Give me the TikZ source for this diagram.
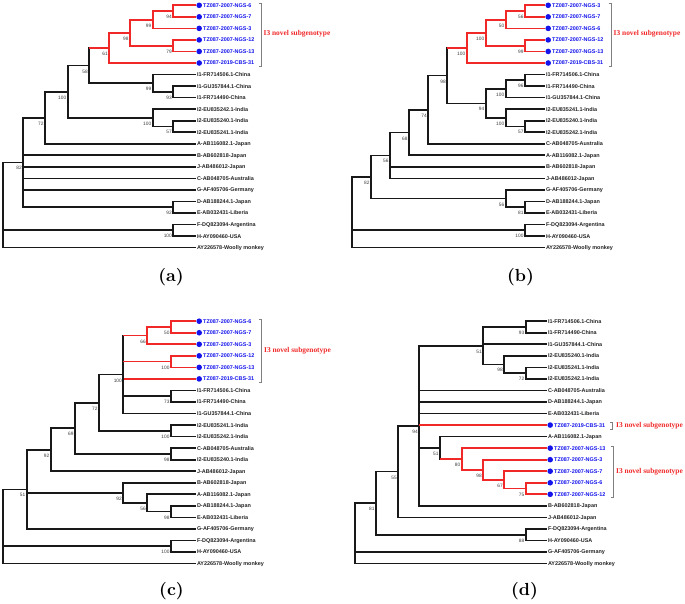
\documentclass[tikz,border=0pt]{standalone}
\usepackage{fontspec}
\newfontfamily\leaffont{Liberation Sans}
\newfontfamily\subfont{Liberation Serif}
\newfontfamily\capfont{lmroman10-bold}[Extension=.otf]
\usetikzlibrary{calc}
\definecolor{trred}{RGB}{240,40,40}
\definecolor{nvblue}{RGB}{20,20,235}
\definecolor{refgray}{RGB}{35,35,35}
\definecolor{bsgray}{RGB}{60,60,60}

% leaves of one tree: prefix, x of branch ends, y of first row, list
\newcommand\leafset[4]{%
  \foreach \lbl/\sty [count=\i from 0] in {#4} {
    \coordinate (#1\i) at (#2, {#3+11.54*\i});
    \node[\sty=#1d\i] (#1t\i) at (#1\i) {\lbl};
  }}
% inner node: name, x, first child, last child, support
\newcommand\clade[5]{%
  \coordinate (#1m) at ($(#3)!.5!(#4)$);
  \coordinate (#1) at (#2,0 |- #1m);
  \if\relax\detokenize{#5}\relax\else\node[bs] (#1s) at (#1) {#5};\fi}
\newcommand\kids[3][tr]{\foreach \ch in {#3} {\draw[#1] (#2) |- (\ch);}}
\newcommand\redstem[2]{\draw[tr] (#1) |- (#2); \draw[rl] (#1 |- #2) -- (#2);}

\begin{document}
\begin{tikzpicture}[x=1pt, y=-1pt,
    tr/.style={line width=1.7pt, draw=black!90},
    rl/.style={line width=1.7pt, draw=trred},
    lab/.style={anchor=west, inner sep=0.8pt, text height=3.9pt, text depth=0pt, font=\leaffont\fontsize{5.45}{6}\selectfont\bfseries},
    rf/.style={lab, text=refgray},
    nv/.style={lab, text=nvblue, xshift=6.2pt, label={[blob, name=#1]left:{}}},
    blob/.style={circle, fill=nvblue, inner sep=0pt, minimum size=5.6pt},
    bs/.style={anchor=north east, inner sep=0pt, xshift=-1.3pt, yshift=-3.9pt, text height=3.4pt, text depth=0pt, text=bsgray, font=\leaffont\fontsize{4.8}{5}\selectfont},
    brk/.style={draw=gray, line width=0.6pt},
    sub/.style={anchor=west, inner sep=0pt, text=trred, font=\subfont\fontsize{7.4}{8}\selectfont\bfseries},
    panel/.style={font=\capfont\fontsize{17.5}{20}\selectfont}]
\useasboundingbox (0,0) rectangle (685,603);

% (a)
\leafset{a}{196}{5.3}{TZ087-2007-NGS-6/nv, TZ087-2007-NGS-7/nv, TZ087-2007-NGS-3/nv, TZ087-2007-NGS-12/nv, TZ087-2007-NGS-13/nv, TZ087-2019-CBS-31/nv, I1-FR714506.1-China/rf, I1-GU357844.1-China/rf, I1-FR714490-China/rf, I2-EU835242.1-India/rf, I2-EU835240.1-India/rf, I2-EU835241.1-India/rf, A-AB116082.1-Japan/rf, B-AB602818-Japan/rf, J-AB486012-Japan/rf, C-AB048705-Australia/rf, G-AF405706-Germany/rf, D-AB188244.1-Japan/rf, E-AB032431-Liberia/rf, F-DQ823094-Argentina/rf, H-AY090460-USA/rf, AY226578-Woolly monkey/rf}
\clade{ai1}{173.3}{a0}{a1}{94}
\clade{ai2}{152.7}{ai1}{a2}{99}
\clade{ai3}{173.3}{a3}{a4}{79}
\clade{ai4}{130}{ai2}{ai3}{98}
\clade{ai5}{109.3}{ai4}{a5}{61}
\clade{ai6}{173.3}{a7}{a8}{93}
\clade{ai7}{152.7}{a6}{ai6}{99}
\clade{ai8}{89.3}{ai5}{ai7}{58}
\clade{ai9}{173.3}{a10}{a11}{57}
\clade{ai10}{152.7}{a9}{ai9}{100}
\clade{ai11}{67.7}{ai8}{ai10}{100}
\clade{ai12}{45}{ai11}{a12}{72}
\clade{ai13}{173.3}{a17}{a18}{92}
\clade{ai14}{23.3}{ai12}{ai13}{82}
\clade{ai15}{173.3}{a19}{a20}{100}
\clade{ai16}{3.2}{ai14}{a21}{}
\kids[rl]{ai1}{a0,a1} \kids[rl]{ai2}{ai1,a2} \kids[rl]{ai3}{a3,a4}
\kids[rl]{ai4}{ai2,ai3} \kids[rl]{ai5}{ai4,a5}
\redstem{ai8}{ai5} \kids{ai8}{ai7}
\kids{ai6}{a7,a8} \kids{ai7}{a6,ai6} \kids{ai9}{a10,a11} \kids{ai10}{a9,ai9}
\kids{ai11}{ai8,ai10} \kids{ai12}{ai11,a12} \kids{ai13}{a17,a18}
\kids{ai14}{ai12,a13,a14,a15,a16,ai13} \kids{ai15}{a19,a20} \kids{ai16}{ai14,ai15,a21}
\draw[brk] (258.5,3.3) -- (261,3.3) -- (261,66.3) -- (258.5,66.3);
\node[sub] (asub) at (263.5,34.2) {I3 novel subgenotype};
\node[panel] (acap) at (171,277.5) {(a)};

% (b)
\leafset{b}{545}{5.3}{TZ087-2007-NGS-3/nv, TZ087-2007-NGS-7/nv, TZ087-2007-NGS-6/nv, TZ087-2007-NGS-12/nv, TZ087-2007-NGS-13/nv, TZ087-2019-CBS-31/nv, I1-FR714506.1-China/rf, I1-FR714490-China/rf, I1-GU357844.1-China/rf, I2-EU835241.1-India/rf, I2-EU835240.1-India/rf, I2-EU835242.1-India/rf, C-AB048705-Australia/rf, A-AB116082.1-Japan/rf, B-AB602818-Japan/rf, J-AB486012-Japan/rf, G-AF405706-Germany/rf, D-AB188244.1-Japan/rf, E-AB032431-Liberia/rf, F-DQ823094-Argentina/rf, H-AY090460-USA/rf, AY226578-Woolly monkey/rf}
\clade{bi1}{525}{b0}{b1}{56}
\clade{bi2}{505.7}{bi1}{b2}{50}
\clade{bi3}{525}{b3}{b4}{99}
\clade{bi4}{485.7}{bi2}{bi3}{100}
\clade{bi5}{466.7}{bi4}{b5}{100}
\clade{bi6}{525}{b6}{b7}{96}
\clade{bi7}{505.7}{bi6}{b8}{100}
\clade{bi8}{525}{b10}{b11}{57}
\clade{bi9}{505.7}{b9}{bi8}{100}
\clade{bi10}{485.7}{bi7}{bi9}{94}
\clade{bi11}{447.3}{bi5}{bi10}{98}
\clade{bi12}{428.3}{bi11}{b12}{74}
\clade{bi13}{409}{bi12}{b13}{68}
\clade{bi14}{390}{bi13}{b15}{56}
\clade{bi15}{525}{b17}{b18}{81}
\clade{bi16}{505.7}{b16}{bi15}{56}
\clade{bi17}{371}{bi14}{bi16}{82}
\clade{bi18}{525}{b19}{b20}{100}
\clade{bi19}{351.7}{bi17}{b21}{}
\kids[rl]{bi1}{b0,b1} \kids[rl]{bi2}{bi1,b2} \kids[rl]{bi3}{b3,b4}
\kids[rl]{bi4}{bi2,bi3} \kids[rl]{bi5}{bi4,b5}
\redstem{bi11}{bi5} \kids{bi11}{bi10}
\kids{bi6}{b6,b7} \kids{bi7}{bi6,b8} \kids{bi8}{b10,b11} \kids{bi9}{b9,bi8}
\kids{bi10}{bi7,bi9} \kids{bi12}{bi11,b12} \kids{bi13}{bi12,b13}
\kids{bi14}{bi13,b14,b15} \kids{bi15}{b17,b18} \kids{bi16}{b16,bi15}
\kids{bi17}{bi14,bi16} \kids{bi18}{b19,b20} \kids{bi19}{bi17,bi18,b21}
\draw[brk] (608.5,3.3) -- (611,3.3) -- (611,66.3) -- (608.5,66.3);
\node[sub] (bsub) at (613.5,34.2) {I3 novel subgenotype};
\node[panel] (bcap) at (520.5,277.5) {(b)};

% (c)
\leafset{c}{196}{321.2}{TZ087-2007-NGS-6/nv, TZ087-2007-NGS-7/nv, TZ087-2007-NGS-3/nv, TZ087-2007-NGS-12/nv, TZ087-2007-NGS-13/nv, TZ087-2019-CBS-31/nv, I1-FR714506.1-China/rf, I1-FR714490-China/rf, I1-GU357844.1-China/rf, I2-EU835241.1-India/rf, I2-EU835242.1-India/rf, C-AB048705-Australia/rf, I2-EU835240.1-India/rf, J-AB486012-Japan/rf, B-AB602818-Japan/rf, A-AB116082.1-Japan/rf, D-AB188244.1-Japan/rf, E-AB032431-Liberia/rf, G-AF405706-Germany/rf, F-DQ823094-Argentina/rf, H-AY090460-USA/rf, AY226578-Woolly monkey/rf}
\clade{ci1}{171}{c0}{c1}{50}
\clade{ci2}{147.3}{ci1}{c2}{66}
\clade{ci3}{171}{c3}{c4}{100}
\clade{ci4}{171}{c6}{c7}{73}
\clade{ci5}{123.3}{ci2}{c8}{100}
\clade{ci6}{171}{c9}{c10}{100}
\clade{ci7}{99}{ci5}{ci6}{72}
\clade{ci8}{171}{c11}{c12}{98}
\clade{ci9}{75}{ci7}{ci8}{69}
\clade{ci10}{50.7}{ci9}{c13}{92}
\clade{ci11}{171}{c16}{c17}{98}
\clade{ci12}{147.3}{c15}{ci11}{56}
\clade{ci13}{123.3}{c14}{ci12}{92}
\clade{ci14}{26.7}{ci10}{c18}{51}
\clade{ci15}{171}{c19}{c20}{100}
\clade{ci16}{3.2}{ci14}{c21}{}
\kids[rl]{ci1}{c0,c1} \kids[rl]{ci2}{ci1,c2} \kids[rl]{ci3}{c3,c4}
\redstem{ci5}{ci2} \redstem{ci5}{ci3} \redstem{ci5}{c5} \kids{ci5}{ci4,c8}
\kids{ci4}{c6,c7} \kids{ci6}{c9,c10} \kids{ci7}{ci5,ci6} \kids{ci8}{c11,c12}
\kids{ci9}{ci7,ci8} \kids{ci10}{ci9,c13} \kids{ci11}{c16,c17} \kids{ci12}{c15,ci11}
\kids{ci13}{c14,ci12} \kids{ci14}{ci10,ci13,c18} \kids{ci15}{c19,c20} \kids{ci16}{ci14,ci15,c21}
\draw[brk] (259.2,319.5) -- (261.7,319.5) -- (261.7,382) -- (259.2,382);
\node[sub] (csub) at (264,350.8) {I3 novel subgenotype};
\node[panel] (ccap) at (171.5,591) {(c)};

% (d)
\leafset{d}{547}{321.2}{I1-FR714506.1-China/rf, I1-FR714490-China/rf, I1-GU357844.1-China/rf, I2-EU835240.1-India/rf, I2-EU835241.1-India/rf, I2-EU835242.1-India/rf, C-AB048705-Australia/rf, D-AB188244.1-Japan/rf, E-AB032431-Liberia/rf, TZ087-2019-CBS-31/nv, A-AB116082.1-Japan/rf, TZ087-2007-NGS-13/nv, TZ087-2007-NGS-3/nv, TZ087-2007-NGS-7/nv, TZ087-2007-NGS-6/nv, TZ087-2007-NGS-12/nv, B-AB602818-Japan/rf, J-AB486012-Japan/rf, F-DQ823094-Argentina/rf, H-AY090460-USA/rf, G-AF405706-Germany/rf, AY226578-Woolly monkey/rf}
\clade{di1}{525.7}{d0}{d1}{93}
\clade{di2}{525.7}{d4}{d5}{72}
\clade{di3}{504.3}{d3}{di2}{98}
\clade{di4}{483.3}{di1}{di3}{51}
\clade{di5}{525.7}{d14}{d15}{75}
\clade{di6}{504.3}{d13}{di5}{67}
\clade{di7}{483.3}{d12}{di6}{98}
\clade{di8}{461.7}{d11}{di7}{80}
\clade{di9}{440}{d10}{di8}{51}
\clade{di10}{419.3}{di4}{d16}{94}
\clade{di11}{398.3}{di10}{d17}{55}
\clade{di12}{525.7}{d18}{d19}{88}
\clade{di13}{376}{di11}{di12}{81}
\clade{di14}{355}{di13}{d21}{}
\kids{di1}{d0,d1} \kids{di2}{d4,d5} \kids{di3}{d3,di2} \kids{di4}{di1,d2,di3}
\kids[rl]{di5}{d14,d15} \kids[rl]{di6}{d13,di5} \kids[rl]{di7}{d12,di6} \kids[rl]{di8}{d11,di7}
\kids{di9}{d10} \redstem{di9}{di8}
\kids{di10}{di4,d6,d7,d8,di9,d16} \redstem{di10}{d9}
\kids{di11}{di10,d17} \kids{di12}{d18,d19} \kids{di13}{di11,di12} \kids{di14}{di13,d20,d21}
\draw[brk] (610,422.3) -- (612.5,422.3) -- (612.5,428.8) -- (610,428.8);
\node[sub] (dsub1) at (616,425.3) {I3 novel subgenotype};
\draw[brk] (610.5,446) -- (613,446) -- (613,497) -- (610.5,497);
\node[sub] (dsub2) at (616,471.5) {I3 novel subgenotype};
\node[panel] (dcap) at (524.5,591) {(d)};
\end{tikzpicture}
\end{document}
